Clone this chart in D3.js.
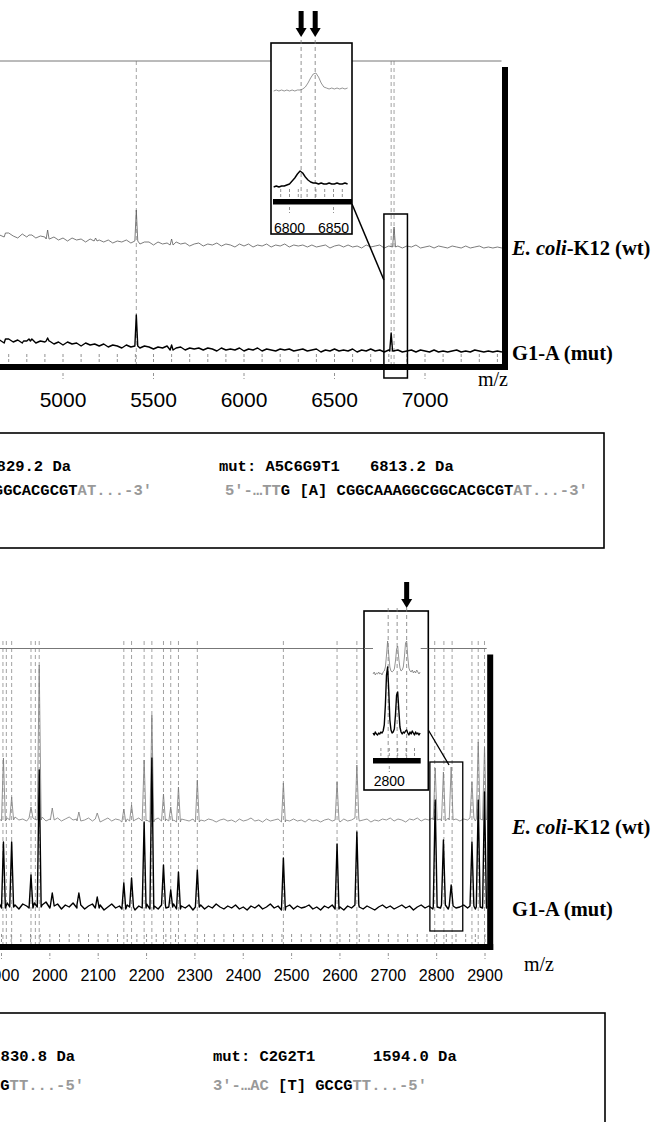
<!DOCTYPE html>
<html>
<head>
<meta charset="utf-8">
<script src="https://cdn.jsdelivr.net/npm/d3@7"></script>
<style>
  body { margin: 0; background: #fff; }
  svg { display: block; }
  .trace-label { font-family: "Liberation Serif", "Times New Roman", serif; font-weight: bold; font-size: 20.5px; }
  .mz { font-family: "Liberation Serif", "Times New Roman", serif; font-size: 20px; }
  .seq { font-family: "Liberation Mono", "Courier New", monospace; font-weight: bold; font-size: 15.5px; }
  .num { font-family: "Liberation Sans", Arial, sans-serif; }
</style>
</head>
<body>
<svg id="fig" width="652" height="1122"></svg>
<script>
// ---------- top spectrum (m/z) ----------
const topTicks = [5000, 5500, 6000, 6500, 7000];
const topStart = 4650, topStep = 25;
const topWtNoise = [13,11,15,12,10,14,11,13,10,12,11, 9,11,8,10,7,10,8,9,6,9,7, 8,6,8,5,7,6,8,5,7,4,6,
  6,3,6,4,5,3,6,4,5,2,4, 5,2,4,3,5,2,4,3,1,4,2, 4,1,3,2,4,1,3,2,4,1,3, 2,3,1,3,1,2,3,0,2,3,1,
  3,1,2,0,3,1,2,3,0,2,1, 2,0,2,1,3,0,1,2,0,2,1, 0,2,1,0,2,0,1,2,0,1,0, 1,0];
const topMutNoise = [12,9,13,10,12,9,11,13,9,11,10, 11,8,10,7,10,8,9,6,9,7,8, 6,8,5,7,6,4,7,5,6,4,6,
  5,3,5,4,6,2,4,5,2,4,3, 4,2,4,3,1,4,2,3,2,4,1, 3,2,4,1,3,2,1,3,2,3,1, 2,3,1,2,3,0,2,1,3,1,2,
  1,3,0,2,1,3,1,2,0,2,1, 2,0,1,2,0,2,1,0,2,0,1, 0,1,2,0,1,0,2,1,0,1,0, 1,0];
const topWtPeaks = [[4690,15],[4820,13],[4915,18],[5180,10],[5405,38],[5600,9],[6829,21]];
const topMutPeaks = [[4690,13],[4790,11],[4820,11],[4915,14],[5405,37],[5600,7],[6813,19]];
const topGuides = [5405, 6813, 6829];

// top inset (6780-6870)
const topInsetTicks = [6800, 6850];
const topInsetStart = 6782, topInsetStep = 3;
const topInsetWt = [0,1,0,1,0,1,0,1,0,1,1,2,4,8,13,17,18,14,8,4,3,2,3,2,3,2,3,2,3];
const topInsetMut = [0,1,0,1,1,2,3,6,9,13,16,14,10,7,5,4,4,3,4,3,3,4,3,3,4,3,3,4,3];
const topArrows = [6813.2, 6829.2];

// ---------- bottom spectrum (m/z) ----------
const botTicks = [1900, 2000, 2100, 2200, 2300, 2400, 2500, 2600, 2700, 2800, 2900];
const botStart = 1896, botStep = 8;
const botWtNoise = [3,1,4,2,5,2,3,1,4,3,2,5,1,3,2,4,1,3,5,2, 3,1,2,4,1,3,0,2,4,1,3,2,0,3,1,2,4,1,2,0,
  2,4,1,3,1,2,0,3,2,1,3,0,2,1,3,2,0,2,3,1, 2,0,3,1,2,4,1,2,0,3,1,2,3,0,2,1,3,1,2,0,
  3,1,2,0,2,3,1,2,0,3,1,2,4,1,2,3,0,2,1,3, 2,4,1,3,2,0,3,2,4,1,3,2,4,2,3,1,4,2,3,1, 3,2,4,1,3,2,3];
const botMutNoise = [6,2,7,3,5,1,6,4,2,7,3,5,8,2,4,6,1,5,3,7, 2,5,1,4,6,2,5,0,3,6,2,4,1,5,3,0,4,2,6,1,
  4,1,5,2,3,6,1,4,2,5,0,3,5,1,4,2,6,3,1,4, 2,5,1,3,0,4,2,5,1,3,6,2,4,0,3,5,1,4,2,3,
  5,1,3,0,4,2,5,1,3,0,4,2,5,3,1,4,2,0,3,5, 2,4,1,3,5,2,4,0,3,5,2,4,1,3,2,5,1,4,2,3, 5,2,4,1,3,2,4];
const botWtPeaks = [[1904,64],[1921,25],[1961,15],[1978,157],[2005,14],[2060,10],[2098,9],[2153,13],[2169,17],
  [2195,62],[2211,107],[2235,28],[2250,15],[2266,35],[2305,42],[2483,39],[2594,40],[2635,57],
  [2797,54],[2814,50],[2830,55],[2873,40],[2886,80],[2899,75]];
const botMutPeaks = [[1904,68],[1921,68],[1961,35],[1978,140],[2005,17],[2060,17],[2098,13],[2153,27],[2169,32],
  [2195,88],[2211,152],[2235,45],[2250,20],[2266,38],[2305,40],[2483,52],[2594,66],[2635,78],
  [2797,110],[2814,70],[2830,25],[2873,68],[2886,110],[2899,118]];
const botGuides = [1903,1910,1921,1961,1970,1978,2153,2169,2195,2211,2235,2250,2266,2305,2483,2594,2635,
  2796,2815,2832,2873,2886,2899];

// bottom inset (2771-2855)
const botInsetTicks = [2800];
const botInsetStart = 2771, botInsetStep = 2;
const botInsetWt = [1,3,0,2,1,3,1,2,0,3,4,8,20,34,20,8,4,3,4,6,14,26,29,16,7,4,5,8,18,32,34,18,7,4,3,5,2,4,2,5,3,1,3];
const botInsetMut = [2,0,3,1,0,2,1,3,2,4,10,30,60,68,45,15,5,2,3,6,20,40,43,25,8,3,1,3,2,4,5,2,0,3,1,4,2,0,3,1,2,0,2];
const botArrows = [2831];

// ---------- sequence boxes ----------
const topSeq = [
  { x: 71, y: 471, anchor: "end", parts: [["6829.2 Da", "#000"]] },
  { x: 219, y: 471, parts: [["mut: A5C6G9T1", "#000"]] },
  { x: 370, y: 471, parts: [["6813.2 Da", "#000"]] },
  { x: 152, y: 495, anchor: "end", parts: [["5'-\u2026TT", "#999"], ["G [G] CGGCAAAGGCGGCACGCGT", "#000"], ["AT...-3'", "#999"]] },
  { x: 225, y: 495, parts: [["5'-\u2026TT", "#999"], ["G [A] CGGCAAAGGCGGCACGCGT", "#000"], ["AT...-3'", "#999"]] }
];
const botSeq = [
  { x: 75, y: 1061, anchor: "end", parts: [["1830.8 Da", "#000"]] },
  { x: 213, y: 1061, parts: [["mut: C2G2T1", "#000"]] },
  { x: 373, y: 1061, parts: [["1594.0 Da", "#000"]] },
  { x: 84, y: 1090, anchor: "end", parts: [["3'-\u2026AC", "#999"], [" [C] GCCG", "#000"], ["TT...-5'", "#999"]] },
  { x: 213, y: 1090, parts: [["3'-\u2026AC", "#999"], [" [T] GCCG", "#000"], ["TT...-5'", "#999"]] }
];

const svg = d3.select("#fig");

// merge baseline samples with peak apexes
function buildTrace(start, step, noise, peaks, w) {
  const pts = noise.map((v, i) => [start + i * step, v])
    .filter(p => !peaks.some(([m]) => Math.abs(p[0] - m) < w));
  peaks.forEach(([m, h]) => {
    const base = noise[Math.max(0, Math.min(noise.length - 1, Math.round((m - start) / step)))];
    pts.push([m - w, base], [m, h], [m + w, base]);
  });
  return pts.sort((a, b) => a[0] - b[0]);
}

function drawTrace(g, data, x, y, color, width) {
  g.append("path").datum(data)
    .attr("fill", "none").attr("stroke", color).attr("stroke-width", width)
    .attr("stroke-linejoin", "round")
    .attr("d", d3.line().x(d => x(d[0])).y(d => y(d[1])));
}

function drawArrow(g, cx, top, bottom) {
  g.append("rect").attr("x", cx - 2.5).attr("y", top).attr("width", 5).attr("height", bottom - top - 8).attr("fill", "#000");
  g.append("path").attr("d", `M${cx - 5.5},${bottom - 9}L${cx + 5.5},${bottom - 9}L${cx},${bottom}Z`).attr("fill", "#000");
}

function panel(o) {
  const g = svg.append("g");
  const x = o.x;

  // guide lines
  g.selectAll(".guide").data(o.guides).enter().append("line")
    .attr("x1", d => x(d)).attr("x2", d => x(d))
    .attr("y1", o.guideTop).attr("y2", o.bottom)
    .attr("stroke", "#8a8a8a").attr("stroke-width", 0.8).attr("stroke-dasharray", "4,3");

  // frame with drop shadow
  g.append("line").attr("x1", -5).attr("x2", o.right).attr("y1", o.top).attr("y2", o.top)
    .attr("stroke", "#777").attr("stroke-width", 1);
  g.append("rect").attr("x", o.right + 0.5).attr("y", o.top + 6).attr("width", 6).attr("height", o.bottom - o.top)
    .attr("fill", "#000");
  g.append("rect").attr("x", -5).attr("y", o.bottom).attr("width", o.right + 11.5).attr("height", 6)
    .attr("fill", "#000");

  // minor ticks inside, major ticks below
  g.selectAll(".minor").data(o.minor).enter().append("line")
    .attr("x1", d => x(d)).attr("x2", d => x(d))
    .attr("y1", o.bottom - 10).attr("y2", o.bottom - 2)
    .attr("stroke", "#777").attr("stroke-width", 0.8).attr("stroke-dasharray", "3,2");
  g.selectAll(".major").data(o.ticks).enter().append("line")
    .attr("x1", d => x(d)).attr("x2", d => x(d))
    .attr("y1", o.bottom + 9).attr("y2", o.bottom + 15)
    .attr("stroke", "#777").attr("stroke-width", 0.8).attr("stroke-dasharray", "3,2");
  g.selectAll(".tl").data(o.ticks).enter().append("text")
    .attr("class", "num").attr("x", d => x(d)).attr("y", o.labelY)
    .attr("text-anchor", "middle").attr("font-size", o.labelSize).text(d => d);
  g.append("text").attr("class", "mz").attr("x", o.mzX).attr("y", o.mzY).text("m/z");

  // spectra
  drawTrace(g, o.wt, x, o.wtY, o.wtColor, 0.8);
  drawTrace(g, o.mut, x, o.mutY, "#000", 1.4);

  // labels
  const l1 = g.append("text").attr("class", "trace-label").attr("x", 512).attr("y", o.wtLabelY);
  l1.append("tspan").attr("font-style", "italic").text("E. coli");
  l1.append("tspan").text("-K12 (wt)");
  g.append("text").attr("class", "trace-label").attr("x", 512).attr("y", o.mutLabelY).text("G1-A (mut)");
  return g;
}

function inset(g, o) {
  const x = o.x;
  g.append("rect").attr("x", o.box[0]).attr("y", o.box[1]).attr("width", o.box[2] - o.box[0]).attr("height", o.box[3] - o.box[1])
    .attr("fill", "#fff").attr("stroke", "#000").attr("stroke-width", 1.6);
  g.selectAll(".ig").data(o.guides).enter().append("line")
    .attr("x1", d => x(d)).attr("x2", d => x(d)).attr("y1", o.box[1] - 3).attr("y2", o.barY)
    .attr("stroke", "#777").attr("stroke-width", 0.8).attr("stroke-dasharray", "4,3");
  g.selectAll(".im").data(o.minor).enter().append("line")
    .attr("x1", d => x(d)).attr("x2", d => x(d)).attr("y1", o.barY - 10).attr("y2", o.barY - 2)
    .attr("stroke", "#777").attr("stroke-width", 0.8).attr("stroke-dasharray", "3,2");
  g.append("rect").attr("x", o.bar[0]).attr("y", o.barY).attr("width", o.bar[1] - o.bar[0]).attr("height", 5.5).attr("fill", "#000");
  g.selectAll(".it").data(o.ticks).enter().append("line")
    .attr("x1", d => x(d)).attr("x2", d => x(d)).attr("y1", o.barY + 8).attr("y2", o.barY + 14)
    .attr("stroke", "#777").attr("stroke-width", 0.8).attr("stroke-dasharray", "3,2");
  g.selectAll(".itl").data(o.ticks).enter().append("text")
    .attr("class", "num").attr("x", d => x(d)).attr("y", o.labelY).attr("text-anchor", "middle")
    .attr("font-size", 14).text(d => d);
  drawTrace(g, o.wt.map((v, i) => [o.start + i * o.step, v]), x, o.wtY, "#7a7a7a", 0.8);
  drawTrace(g, o.mut.map((v, i) => [o.start + i * o.step, v]), x, o.mutY, "#000", 1.4);
  o.arrows.forEach(a => drawArrow(g, x(a), o.arrowTop, o.arrowBottom));
}

// ----- top panel -----
const xTop = d3.scaleLinear().domain([5000, 7000]).range([63, 425]);
const gTop = panel({
  x: xTop, top: 61, right: 501.5, bottom: 364, guideTop: 61, guides: topGuides,
  minor: d3.range(4700, 7401, 100), ticks: topTicks, labelY: 407, labelSize: 21,
  mzX: 478, mzY: 386,
  wt: buildTrace(topStart, topStep, topWtNoise, topWtPeaks, 8),
  mut: buildTrace(topStart, topStep, topMutNoise, topMutPeaks, 8),
  wtColor: "#5a5a5a",
  wtY: d3.scaleLinear().domain([0, 100]).range([248, 148]),
  mutY: d3.scaleLinear().domain([0, 100]).range([352, 252]),
  wtLabelY: 255, mutLabelY: 360
});
// zoom box + connector
gTop.append("rect").attr("x", xTop(6773)).attr("y", 214).attr("width", xTop(6903) - xTop(6773)).attr("height", 164)
  .attr("fill", "none").attr("stroke", "#000").attr("stroke-width", 1.5);
gTop.append("line").attr("x1", 352).attr("y1", 204).attr("x2", xTop(6773)).attr("y2", 280)
  .attr("stroke", "#000").attr("stroke-width", 1.5);
inset(gTop, {
  x: d3.scaleLinear().domain([6800, 6850]).range([289.5, 333.5]),
  box: [271, 43, 352, 234], bar: [273, 352], barY: 199, labelY: 233,
  guides: topArrows, minor: d3.range(6790, 6861, 10), ticks: topInsetTicks,
  start: topInsetStart, step: topInsetStep, wt: topInsetWt, mut: topInsetMut,
  wtY: d3.scaleLinear().domain([0, 100]).range([91, -9]),
  mutY: d3.scaleLinear().domain([0, 100]).range([187, 87]),
  arrows: topArrows, arrowTop: 11, arrowBottom: 37
});

// ----- bottom panel -----
const xBot = d3.scaleLinear().domain([1900, 2900]).range([1.5, 485]);
const gBot = panel({
  x: xBot, top: 648.5, right: 486.7, bottom: 944, guideTop: 641, guides: botGuides,
  minor: d3.range(1900, 2901, 20), ticks: botTicks, labelY: 981, labelSize: 16,
  mzX: 524, mzY: 971,
  wt: buildTrace(botStart, botStep, botWtNoise, botWtPeaks, 4),
  mut: buildTrace(botStart, botStep, botMutNoise, botMutPeaks, 4),
  wtColor: "#7a7a7a",
  wtY: d3.scaleLinear().domain([0, 100]).range([822, 722]),
  mutY: d3.scaleLinear().domain([0, 100]).range([910, 810]),
  wtLabelY: 834, mutLabelY: 916
});
gBot.append("rect").attr("x", xBot(2786)).attr("y", 762).attr("width", xBot(2854) - xBot(2786)).attr("height", 169)
  .attr("fill", "none").attr("stroke", "#000").attr("stroke-width", 1.3);
inset(gBot, {
  x: d3.scaleLinear().domain([2800, 2850]).range([389.3, 417.3]),
  box: [364, 611, 428.3, 790], bar: [373, 420.7], barY: 758, labelY: 786,
  guides: [2798, 2814, 2831], minor: [2785, 2800, 2815, 2830, 2845], ticks: botInsetTicks,
  start: botInsetStart, step: botInsetStep, wt: botInsetWt, mut: botInsetMut,
  wtY: d3.scaleLinear().domain([0, 100]).range([675, 575]),
  mutY: d3.scaleLinear().domain([0, 100]).range([735, 635]),
  arrows: botArrows, arrowTop: 582, arrowBottom: 608
});
// frame line is drawn again over the inset where it shows through
gBot.append("line").attr("x1", 364).attr("x2", 373).attr("y1", 648.5).attr("y2", 648.5).attr("stroke", "#777");
gBot.append("line").attr("x1", 420.7).attr("x2", 428.3).attr("y1", 648.5).attr("y2", 648.5).attr("stroke", "#777");
gBot.append("line").attr("x1", 428.3).attr("y1", 730).attr("x2", 449).attr("y2", 765)
  .attr("stroke", "#000").attr("stroke-width", 1.3);

// ----- sequence boxes -----
function seqBox(box, rows) {
  svg.append("rect").attr("x", box[0]).attr("y", box[1]).attr("width", box[2] - box[0]).attr("height", box[3] - box[1])
    .attr("fill", "none").attr("stroke", "#000").attr("stroke-width", 1.6);
  rows.forEach(r => {
    const t = svg.append("text").attr("class", "seq").attr("x", r.x).attr("y", r.y)
      .attr("text-anchor", r.anchor || "start").attr("xml:space", "preserve");
    r.parts.forEach(p => t.append("tspan").attr("fill", p[1]).text(p[0]));
  });
}
seqBox([-5, 433, 604, 548], topSeq);
seqBox([-5, 1013, 605, 1140], botSeq);
</script>
</body>
</html>
